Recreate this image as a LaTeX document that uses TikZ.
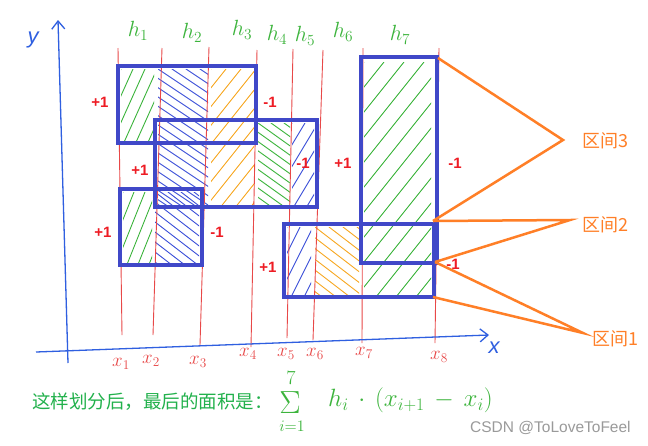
\RequirePackage{fix-cm}
\documentclass[tikz,border=0pt]{standalone}
\usepackage{fontspec}
\setmainfont{Liberation Sans}
\newfontfamily\cjk{Noto Sans CJK SC}
\usetikzlibrary{arrows.meta}
\definecolor{rectblue}{HTML}{4048C8}
\definecolor{axisblue}{HTML}{2F5FE0}
\definecolor{redline}{HTML}{E84848}
\definecolor{redtxt}{HTML}{EE1C24}
\definecolor{hgreen}{HTML}{3CB43C}
\definecolor{hblue}{HTML}{3A4ED8}
\definecolor{horange}{HTML}{F7A823}
\definecolor{callout}{HTML}{FF7F27}
\definecolor{txtgreen}{HTML}{22B14C}
\definecolor{wmgray}{HTML}{9A9A9A}
\tikzset{
  box/.style={draw=rectblue, line width=3.5pt},
  gridline/.style={draw=redline, line width=0.9pt},
  sign/.style={text=redtxt, font=\fontsize{15}{15}\selectfont\bfseries, inner sep=0pt},
  hlab/.style={text=hgreen, font=\fontsize{22}{22}\selectfont, inner sep=0pt},
  xlab/.style={text=redline, font=\fontsize{19}{19}\selectfont, inner sep=0pt},
  calloutline/.style={draw=callout, line width=2.5pt, line join=miter},
  callouttext/.style={text=callout, font=\cjk\fontsize{18}{18}\selectfont, inner sep=0pt, anchor=west},
  axisline/.style={draw=axisblue, line width=1.3pt, -{Straight Barb[length=8pt,width=13pt]}},
  axislab/.style={text=axisblue, font=\itshape\fontsize{22}{22}\selectfont, inner sep=0pt},
  sumpart/.style={text=hgreen, inner sep=0pt},
}
% #1 colour, #2 xa, #3 ya, #4 xb, #5 yb, #6 step, #7 slant (dx per dy, + for "/", - for "\")
\newcommand\myhatch[7]{%
  \begin{scope}
    \clip (#2,#3) rectangle (#4,#5);
    \foreach \k in {-40,...,40}
      \draw[#1, line width=0.9pt, line cap=round] ({#2+\k*#6},#3) -- ++({-#7*300},300);
  \end{scope}}
\begin{document}
\begin{tikzpicture}[x=1pt,y=-1pt]
\useasboundingbox[fill=white] (0,0) rectangle (648,445);

% hatching
\myhatch{hgreen}{121}{69}{154}{140}{12}{0.45}
\myhatch{hblue}{158}{69}{208}{204}{14}{-1.5}
\myhatch{horange}{211}{69}{254}{204}{15}{0.8}
\myhatch{hgreen}{258}{123}{290}{204}{13}{-1.4}
\myhatch{hblue}{292}{123}{314}{204}{13}{0.6}
\myhatch{hgreen}{123}{192}{152}{262}{11}{0.4}
\myhatch{hblue}{155}{192}{199}{262}{13}{-1.3}
\myhatch{hblue}{287}{227}{311}{294}{13}{0.5}
\myhatch{horange}{315}{227}{359}{294}{14}{-1.3}
\myhatch{hgreen}{364}{62}{431}{294}{20}{0.8}

% red vertical lines
\coordinate (t1) at (118,48); \coordinate (b1) at (122,335);
\coordinate (t2) at (162,48); \coordinate (b2) at (153,335);
\coordinate (t3) at (209,47); \coordinate (b3) at (200,345);
\coordinate (t4) at (257,50); \coordinate (b4) at (251,347);
\coordinate (t5) at (293,49); \coordinate (b5) at (287,338);
\coordinate (t6) at (323,50); \coordinate (b6) at (313,340);
\coordinate (t7) at (363,48); \coordinate (b7) at (362,343);
\coordinate (t8) at (439,48); \coordinate (b8) at (435,343);
\foreach \i in {1,...,8} \draw[gridline] (t\i) -- (b\i);

% axes
\coordinate (yb) at (68,363); \coordinate (yt) at (58,20);
\coordinate (xa) at (36,352); \coordinate (xe) at (489,335);
\draw[axisline] (yb) -- (yt);
\draw[axisline] (xa) -- (xe);
\node[axislab] (ylab) at (33,40) {y};
\node[axislab] (xlabel) at (494,348) {x};

% blue rectangles
\coordinate (r1a) at (118,66);  \coordinate (r1b) at (256,143);
\coordinate (r2a) at (155,120); \coordinate (r2b) at (317,207);
\coordinate (r3a) at (120,189); \coordinate (r3b) at (202,265);
\coordinate (r4a) at (284,224); \coordinate (r4b) at (434,297);
\coordinate (r5a) at (361,57);  \coordinate (r5b) at (437,263);
\foreach \i in {1,...,5} \draw[box] (r\i a) rectangle (r\i b);

% h labels
\node[hlab] (h1) at (138,31) {$h_1$};
\node[hlab] (h2) at (192,33) {$h_2$};
\node[hlab] (h3) at (242,30) {$h_3$};
\node[hlab] (h4) at (277,35) {$h_4$};
\node[hlab] (h5) at (305,36) {$h_5$};
\node[hlab] (h6) at (343,32) {$h_6$};
\node[hlab] (h7) at (400,35) {$h_7$};

% x labels
\node[xlab] (x1) at (121,364) {$x_1$};
\node[xlab] (x2) at (151,361) {$x_2$};
\node[xlab] (x3) at (198,362) {$x_3$};
\node[xlab] (x4) at (248,354) {$x_4$};
\node[xlab] (x5) at (286,354) {$x_5$};
\node[xlab] (x6) at (315,354) {$x_6$};
\node[xlab] (x7) at (364,353) {$x_7$};
\node[xlab] (x8) at (439,357) {$x_8$};

% signs
\node[sign] (s1) at (100,102) {+1};
\node[sign] (s2) at (270,102) {-1};
\node[sign] (s3) at (140,170) {+1};
\node[sign] (s4) at (303,163) {-1};
\node[sign] (s5) at (103,232) {+1};
\node[sign] (s6) at (217,232) {-1};
\node[sign] (s7) at (268,267) {+1};
\node[sign] (s8) at (343,163) {+1};
\node[sign] (s9) at (455,163) {-1};
\node[sign] (s10) at (453,264) {-1};

% callouts
\coordinate (c3a) at (438,58);  \coordinate (c3t) at (563,140); \coordinate (c3b) at (433,221);
\coordinate (c2t) at (570,220); \coordinate (c2b) at (435,262);
\coordinate (c1t) at (583,333); \coordinate (c1b) at (433,297);
\draw[calloutline] (c3a) -- (c3t) -- (c3b);
\draw[calloutline] (c3b) -- (c2t) -- (c2b);
\draw[calloutline] (c2b) -- (c1t) -- (c1b);
\node[callouttext] (q3) at (582,141) {区间3};
\node[callouttext] (q2) at (582,225) {区间2};
\node[callouttext] (q1) at (592,339) {区间1};

% bottom text
\node[anchor=west, inner sep=0pt, text=txtgreen, font=\fontsize{18.5}{18.5}\selectfont\cjk] (note) at (32,402) {这样划分后，最后的面积是：};
\node[sumpart, font=\fontsize{20}{20}\selectfont] (sumtop) at (291,378) {$7$};
\node[sumpart, font=\fontsize{32}{32}\selectfont] (sumsym) at (290,403) {$\Sigma$};
\node[sumpart, font=\fontsize{16}{16}\selectfont] (sumbot) at (292,426) {$i{=}1$};
\node[anchor=west, inner sep=0pt, text=hgreen, font=\fontsize{25}{25}\selectfont] (formula) at (328,400) {$h_i\,\cdot\,(x_{i+1}\,-\,x_i)$};

% watermark
\node[anchor=west, inner sep=0pt, text=wmgray, font=\fontsize{15.5}{15.5}\selectfont] (wm) at (470,428) {CSDN @ToLoveToFeel};
\end{tikzpicture}
\end{document}
